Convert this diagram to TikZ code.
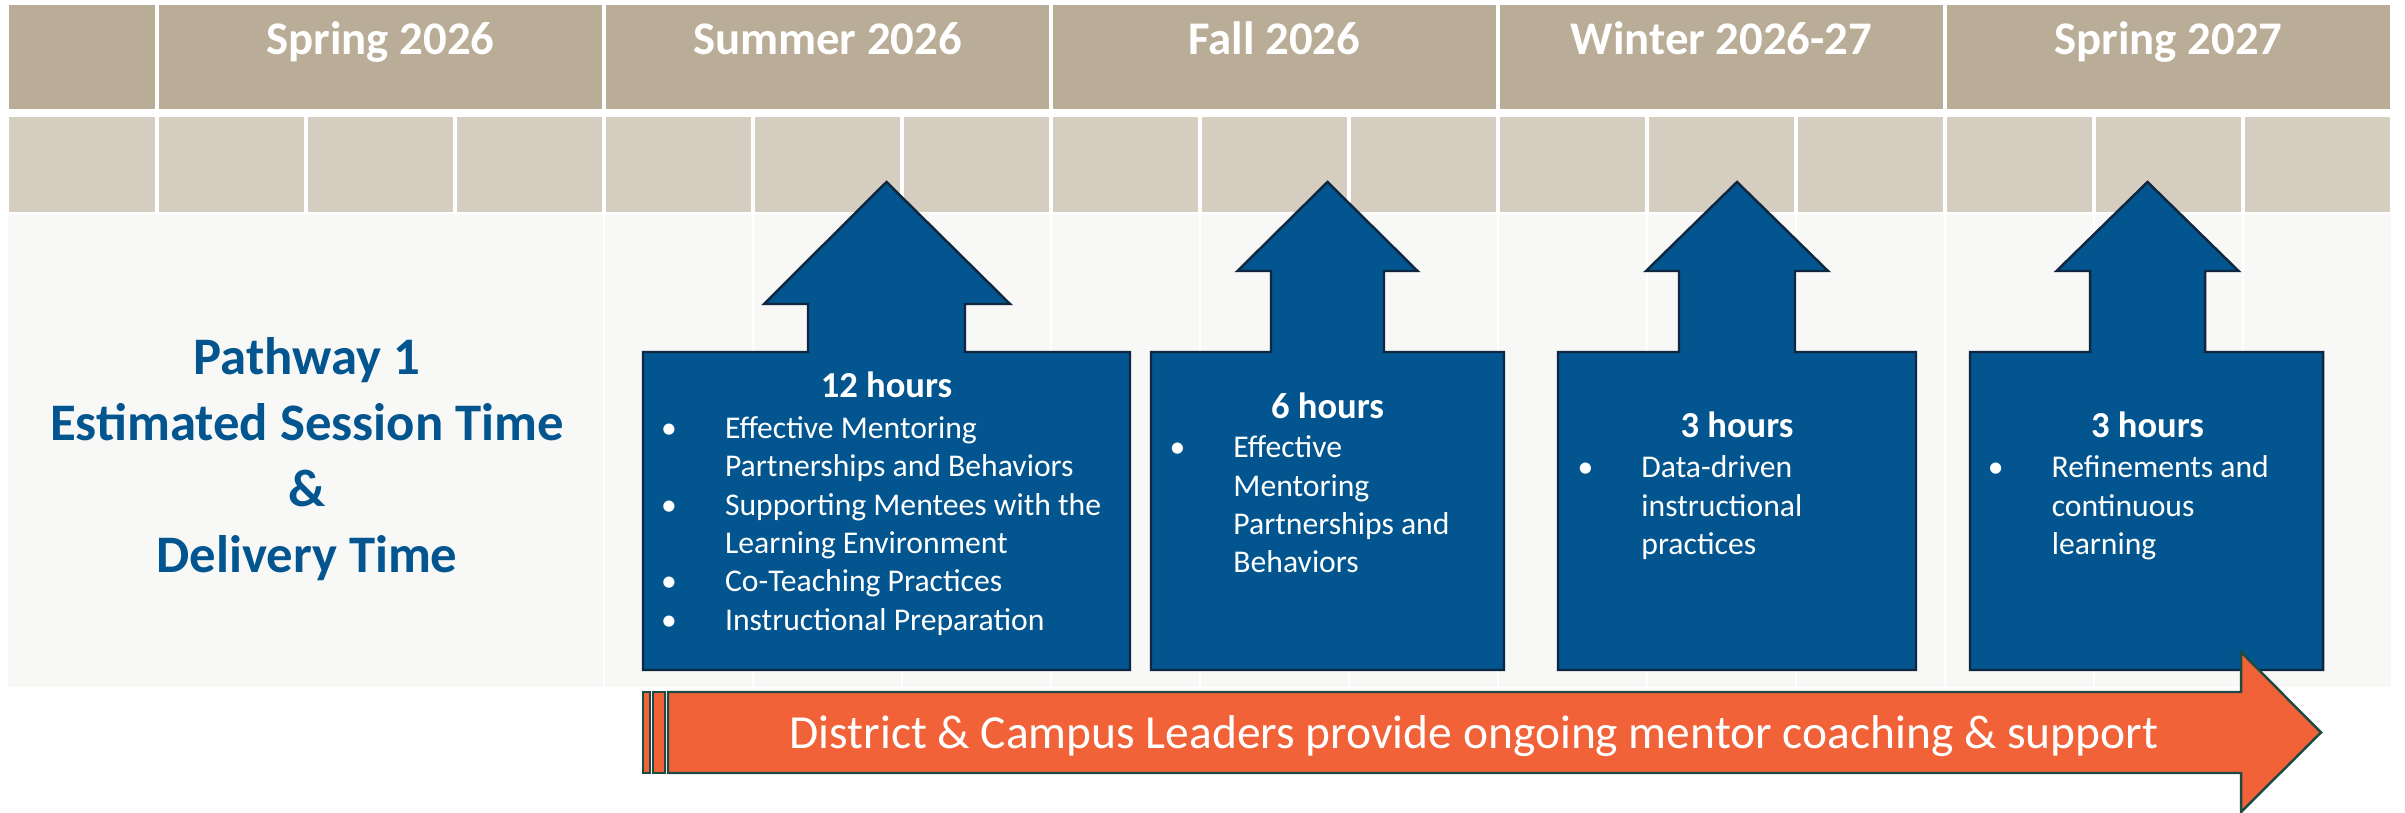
\documentclass[tikz,border=0pt]{standalone}
\usepackage{fontspec}
\setmainfont{Carlito}
\definecolor{headtan}{HTML}{B9AD97}
\definecolor{subtan}{HTML}{D5CDC0}
\definecolor{rowgrey}{HTML}{F8F8F6}
\definecolor{boxblue}{HTML}{03558F}
\definecolor{boxedge}{HTML}{0F2740}
\definecolor{bannerorange}{HTML}{F26239}
\definecolor{banneredge}{HTML}{1E4A44}
\tikzset{cell/.style = {draw=white, line width=0.9pt}}
\tikzset{sessarrow/.style = {fill=boxblue, draw=boxedge, line width=0.7pt, line join=miter}}
\tikzset{banner/.style = {fill=bannerorange, draw=banneredge, line width=0.7pt, line join=miter}}
\tikzset{season/.style = {text=white, inner sep=0, anchor=base,
                          font=\fontsize{13.3}{16}\selectfont\bfseries}}
\tikzset{hours/.style = {text=white, inner sep=0, anchor=base,
                         font=\fontsize{10.4}{12.5}\selectfont\bfseries}}
\tikzset{topics/.style = {text=white, inner sep=0, anchor=base west,
                          font=\fontsize{9}{10.9}\selectfont}}
\newcommand{\dotitem}{\makebox[0pt]{\textbullet}}
\newcommand{\topiclist}[1]{\begin{tabular}[t]{@{}p{0.56cm}@{}l@{}}#1\end{tabular}}

\begin{document}
\begin{tikzpicture}[x=0.01cm, y=-0.01cm]
    \useasboundingbox (0,0) rectangle (2405,813);

    % table
    \fill[cell, fill=headtan] (7,3.5) rectangle (157,111);
    \foreach \i in {0,...,4}
      \filldraw[cell, fill=headtan] (157+447*\i,3.5) rectangle +(447,107.5);
    \filldraw[cell, fill=subtan] (7,115) rectangle (157,213.5);
    \foreach \j in {0,...,14}
      \filldraw[cell, fill=subtan] (157+149*\j,115) rectangle +(149,98.5);
    \filldraw[cell, fill=rowgrey, line width=0.5pt] (7,213.5) rectangle (604,688);
    \foreach \j in {3,...,14}
      \filldraw[cell, fill=rowgrey, line width=0.5pt] (157+149*\j,213.5) rectangle +(149,474.5);

    \node [season] (s1) at (380.5, 55) {Spring 2026};
    \node [season] (s2) at (827.5, 55) {Summer 2026};
    \node [season] (s3) at (1274.5, 55) {Fall 2026};
    \node [season] (s4) at (1721.5, 55) {Winter 2026-27};
    \node [season] (s5) at (2168.5, 55) {Spring 2027};

    \node [text=boxblue, inner sep=0, anchor=base, font=\fontsize{15}{18.7}\selectfont\bfseries]
      (pathway) at (307, 375)
      {\begin{tabular}[t]{@{}c@{}}Pathway 1\\Estimated Session Time\\\&\\Delivery Time\end{tabular}};

    % session arrows
    \draw [sessarrow] (643,670) -- (643,352) -- (808,352) -- (808,304) -- (764,304) -- (886.5,182)
      -- (1010,304) -- (965,304) -- (965,352) -- (1130,352) -- (1130,670) -- cycle;
    \draw [sessarrow] (1151,670) -- (1151,352) -- (1271,352) -- (1271,271) -- (1237.5,271) -- (1327.5,182)
      -- (1417.5,271) -- (1384,271) -- (1384,352) -- (1504,352) -- (1504,670) -- cycle;
    \draw [sessarrow] (1558,670) -- (1558,352) -- (1679,352) -- (1679,271) -- (1646,271) -- (1737,182)
      -- (1828,271) -- (1795,271) -- (1795,352) -- (1916,352) -- (1916,670) -- cycle;
    \draw [sessarrow] (1970,670) -- (1970,352) -- (2090,352) -- (2090,271) -- (2056.5,271) -- (2147.5,182)
      -- (2238.5,271) -- (2205,271) -- (2205,352) -- (2323,352) -- (2323,670) -- cycle;

    \node [hours] (hrs12) at (886.5, 398) {12 hours};
    \node [topics] (list12) at (668.3, 438.4) {\topiclist{
        \dotitem & Effective Mentoring\\
                 & Partnerships and Behaviors\\
        \dotitem & Supporting Mentees with the\\
                 & Learning Environment\\
        \dotitem & Co-Teaching Practices\\
        \dotitem & Instructional Preparation}};

    \node [hours] (hrs6) at (1327.5, 418.5) {6 hours};
    \node [topics] (list6) at (1176.7, 458) {\topiclist{
        \dotitem & Effective\\
                 & Mentoring\\
                 & Partnerships and\\
                 & Behaviors}};

    \node [hours] (hrs3a) at (1737, 437.8) {3 hours};
    \node [topics] (list3a) at (1584.7, 478) {\topiclist{
        \dotitem & Data-driven\\
                 & instructional\\
                 & practices}};

    \node [hours] (hrs3b) at (2147.5, 437.8) {3 hours};
    \node [topics] (list3b) at (1995, 478) {\topiclist{
        \dotitem & Refinements and\\
                 & continuous\\
                 & learning}};

    % ongoing support
    \draw [banner] (643,692) rectangle (650,773);
    \draw [banner] (653,692) rectangle (665,773);
    \draw [banner] (668,692) -- (2241,692) -- (2241,652) -- (2321,732.5) -- (2241,812)
      -- (2241,773) -- (668,773) -- cycle;
    \node [text=white, inner sep=0, anchor=base, font=\fontsize{13.5}{16}\selectfont]
      (support) at (1474, 749) {District \& Campus Leaders provide ongoing mentor coaching \& support};
  \end{tikzpicture}
\end{document}
